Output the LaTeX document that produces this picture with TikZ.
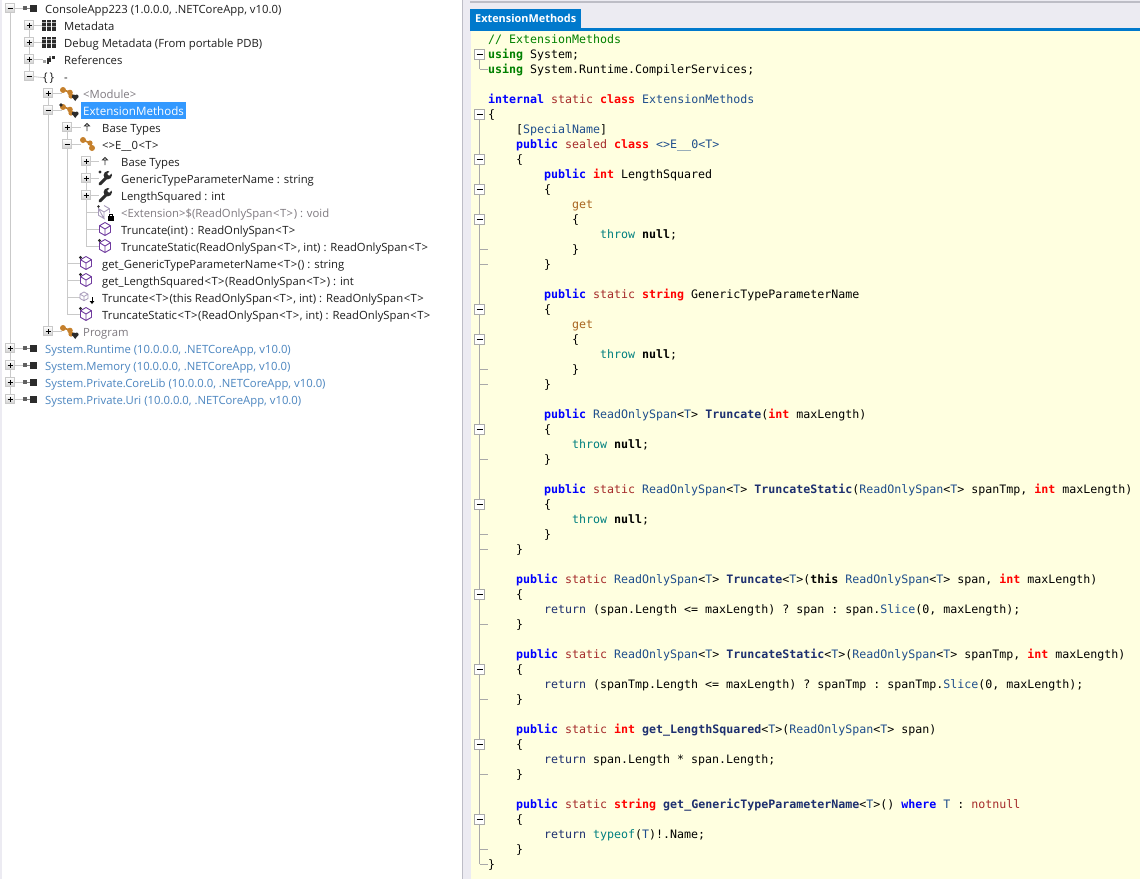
\documentclass[tikz,border=0pt]{standalone}
\usepackage{fontspec}
\setmainfont{Open Sans}
\setmonofont{DejaVu Sans Mono}
\usetikzlibrary{positioning}
\pgfdeclarelayer{bg}
\pgfsetlayers{bg,main}

\definecolor{panelgrey}{HTML}{ECEBF2}
\definecolor{splitgrey}{HTML}{BDBDC6}
\definecolor{tabblue}{HTML}{0079CC}
\definecolor{selblue}{HTML}{3399FF}
\definecolor{codeback}{HTML}{FFFFE0}
\definecolor{treegrey}{HTML}{C9C9C9}
\definecolor{foldgrey}{HTML}{A9A9A9}
\definecolor{treeink}{HTML}{1E1E1E}
\definecolor{dimink}{HTML}{7F7A80}
\definecolor{asmblue}{HTML}{4C86C0}
\definecolor{classorange}{HTML}{C5802C}
\definecolor{cubeviolet}{HTML}{6F3A9E}
\definecolor{dimviolet}{HTML}{A79ABA}
\definecolor{iconink}{HTML}{2C2C2C}
\definecolor{modbrown}{HTML}{A52A2A}
\definecolor{getbrown}{HTML}{A8641E}
\definecolor{typeblue}{HTML}{1F4E8C}
\definecolor{flowteal}{HTML}{008080}
\definecolor{retnavy}{HTML}{1D2F6F}
\definecolor{commentgreen}{HTML}{008000}

\newcommand{\treefont}{\fontsize{11.3}{14}\selectfont}
\newcommand{\codefont}{\ttfamily\fontsize{11.63}{15}\selectfont}
\newcommand{\kwpub}[1]{\textcolor{blue}{\bfseries #1}}
\newcommand{\kwmod}[1]{\textcolor{modbrown}{#1}}
\newcommand{\kwred}[1]{\textcolor{red}{\bfseries #1}}
\newcommand{\kwuse}[1]{\textcolor{commentgreen}{\bfseries #1}}
\newcommand{\kwget}[1]{\textcolor{getbrown}{#1}}
\newcommand{\kwflow}[1]{\textcolor{flowteal}{#1}}
\newcommand{\kwret}[1]{\textcolor{retnavy}{#1}}
\newcommand{\tyname}[1]{\textcolor{typeblue}{#1}}
\newcommand{\mbold}[1]{\textcolor{retnavy}{\bfseries #1}}
\newcommand{\rospan}{\tyname{ReadOnlySpan}<\tyname{T}>}
\newcommand{\gen}{\kern0.6pt<\kern0.4pt T\kern0.4pt>\kern0.6pt}

\tikzset{
	treerow/.style = {anchor = base west, inner sep = 0, yshift = -5pt, font = \treefont, text = treeink},
	treedim/.style = {treerow, text = dimink},
	treeasm/.style = {treerow, text = asmblue},
	treesel/.style = {treerow, fill = selblue, text = white, text height = 13pt, text depth = 4pt, inner xsep = 2pt, font = \fontsize{11.6}{14}\selectfont},
	treeline/.style = {draw = treegrey, line width = 0.8pt},
	expander/.style = {draw = treegrey, top color = white, bottom color = black!18, minimum size = 9pt, inner sep = 0},
	plusbox/.style = {expander, path picture = {
			\draw [black, line width = 1pt] ([xshift = 2pt]path picture bounding box.west) -- ([xshift = -2pt]path picture bounding box.east);
			\draw [black, line width = 1pt] ([yshift = -2pt]path picture bounding box.north) -- ([yshift = 2pt]path picture bounding box.south);
		}},
	minusbox/.style = {expander, path picture = {
			\draw [black, line width = 1pt] ([xshift = 2pt]path picture bounding box.west) -- ([xshift = -2pt]path picture bounding box.east);
		}},
	iconslot/.style = {minimum size = 12pt, inner sep = 0},
	codeline/.style = {anchor = base west, inner sep = 0, xshift = -1pt, yshift = -4pt, font = \codefont, text = black},
	foldbox/.style = {draw = foldgrey, fill = white, minimum size = 10pt, inner sep = 0, path picture = {
			\draw [black, line width = 0.9pt] ([xshift = 2pt]path picture bounding box.west) -- ([xshift = -2pt]path picture bounding box.east);
		}},
	foldline/.style = {draw = foldgrey, line width = 0.8pt},
	asmicon/.pic = {
		\fill [iconink!75] (-7,-2) rectangle (-3.5,2);
		\fill [iconink!60] (-3.5,-0.4) rectangle (0,0.4);
		\fill [iconink] (0,-3.5) rectangle (6.5,3.5);
	},
	metaicon/.pic = {
		\foreach \bx in {-7.2,-2.2,2.8} {
			\fill [iconink] (\bx,-5.5) rectangle ++(4,11);
			\foreach \by in {-2.4,1.2}
				\draw [white!60!iconink, line width = 0.5pt] (\bx,\by) -- ++(4,0);
		}
	},
	refsicon/.pic = {
		\fill [iconink!45] (-6,1) rectangle ++(3,3);
		\fill [iconink] (-2,-1) rectangle ++(3.5,3.5);
		\fill [iconink] (-2,2.5) rectangle ++(2,2);
		\fill [iconink] (2.5,-3.5) rectangle ++(3.5,3.5);
		\fill [iconink!60] (-0.5,-3) rectangle ++(2,2);
	},
	classicon/.pic = {
		\draw [classorange, line width = 1.6pt] (-5,-3) -- (2,-1) -- (3,3);
		\fill [classorange] (-5,-3) circle (3pt) (2,-0.5) circle (2.8pt) (3,3) circle (2.6pt);
		\fill [iconink] (5.8,3.5) circle (2pt) (8.6,3.5) circle (2pt) (4.3,4.2) -- (7.2,8) -- (10.1,4.2) -- cycle;
	},
	extclassicon/.pic = {
		\pic {classicon};
		\fill [iconink] (-7,-5) circle (1.8pt);
	},
	sealedicon/.pic = {
		\draw [classorange, line width = 1.6pt] (-4,-4) -- (3,-1) -- (5,4);
		\fill [classorange] (-4,-4) circle (3pt) (3,-1) circle (2.6pt) (5,4) circle (3pt);
	},
	baseicon/.pic = {
		\draw [iconink, line width = 0.8pt] (0,4) -- (0,-1) (-2.5,-1) -- (0,-3.5) -- (2.5,-1) -- cycle;
	},
	wrenchicon/.pic = {
		\draw [iconink, line width = 3pt, line cap = round] (-5,6) -- (1.5,-0.5);
		\fill [iconink] (2.8,-2.8) circle (4.2pt);
		\draw [white, line width = 2.6pt] (3.2,-3.2) -- (8,-8);
	},
	starwrench/.pic = {
		\pic {wrenchicon};
		\fill [iconink] (-5,-6) circle (1.6pt);
	},
	cubeicon/.pic = {
		\draw [cubeviolet, line width = 0.9pt, line join = round] (0,-6.5) -- (5.5,-3.3) -- (5.5,3.3) -- (0,6.5) -- (-5.5,3.3) -- (-5.5,-3.3) -- cycle
			(-5.5,-3.3) -- (0,0) -- (5.5,-3.3) (0,0) -- (0,6.5);
	},
	starcube/.pic = {
		\pic {cubeicon};
		\fill [iconink] (-5.5,-5.5) circle (1.7pt);
	},
	lockcube/.pic = {
		\draw [dimviolet, line width = 0.9pt] (-1,-6.5) -- (4.5,-3.3) -- (4.5,1) (-1,6.5) -- (-6.5,3.3) -- (-6.5,-3.3) -- cycle
			(-6.5,-3.3) -- (-1,0) -- (4.5,-3.3) (-1,0) -- (-1,6.5);
		\fill [iconink] (-6.5,-5.5) circle (1.4pt);
		\fill [black] (3,4) rectangle (8.5,8.5);
		\draw [black, line width = 0.8pt] (4.2,4) -- (4.2,2.5) -- (7.2,2.5) -- (7.2,4);
	},
	extcube/.pic = {
		\draw [dimviolet, line width = 0.8pt] (-2,-5) -- (2,-2.8) -- (2,1.5) -- (-2,3.7) -- (-6,1.5) -- (-6,-2.8) -- cycle
			(-6,-2.8) -- (-2,-0.6) -- (2,-2.8) (-2,-0.6) -- (-2,3.7);
		\draw [black, line width = 1pt] (6,0) -- (6,5);
		\fill [black] (3.6,4) -- (8.4,4) -- (6,7) -- cycle;
	},
}

\begin{document}
\begin{tikzpicture}[x = 1pt, y = -1pt]
	\useasboundingbox (0,0) rectangle (1140,879);
	\begin{pgfonlayer}{bg}
		% window panes
		\fill [white] (0,0) rectangle (1140,879);
		\fill [panelgrey] (0,0) rectangle (1.5,879);
		\fill [panelgrey] (462,0) rectangle (1140,28);
		\fill [panelgrey] (462,0) rectangle (470.5,879);
		\fill [splitgrey] (462,0) rectangle (463,879);
		\fill [splitgrey] (470,1) rectangle (1140,2.5);
		\fill [tabblue] (470,27.5) rectangle (1140,31);
		\fill [codeback] (471,31) rectangle (1140,879);
	\end{pgfonlayer}

	\node [fill = tabblue, text = white, anchor = north west, inner sep = 0, minimum width = 111pt, minimum height = 19pt, font = \fontsize{10.9}{14}\selectfont\bfseries] (tab) at (470,9) {ExtensionMethods};

	% tree expanders
	\foreach \ry/\rx in {8/10,76/29,110/48,144/67}
		\node [minusbox] (b\ry) at (\rx,\ry) {};
	\foreach \ry/\rx in {25/29,42/29,59/29,93/48,127/67,161/86,178/86,195/86,331/48,348/10,365/10,382/10,399/10}
		\node [plusbox] (b\ry) at (\rx,\ry) {};

	% tree icons
	\foreach \ry/\rx/\ic in {8/30/asmicon,25/49/metaicon,42/49/metaicon,59/49/refsicon,93/68/classicon,110/68/extclassicon,127/87/baseicon,144/87/sealedicon,161/105/baseicon,178/105/starwrench,195/105/wrenchicon,212/105/lockcube,229/105/cubeicon,246/105/starcube,263/86/starcube,280/86/starcube,297/86/extcube,314/86/starcube,331/68/classicon,348/30/asmicon,365/30/asmicon,382/30/asmicon,399/30/asmicon} {
		\node [iconslot] (i\ry) at (\rx,\ry) {};
		\pic at (i\ry) {\ic};
	}
	\node [treerow, font = \fontsize{12}{14}\selectfont] (i76) at (43,76) {\{\,\}};

	% tree lines
	\begin{pgfonlayer}{bg}
		\foreach \ry/\rx in {212/86,229/86,246/86,263/67,280/67,297/67,314/67}
			\coordinate (n\ry) at (\rx,\ry);
		\draw [treeline] (b8) -- (b399);
		\draw [treeline] (b25) -- (b76);
		\draw [treeline] (b93) -- (b331);
		\draw [treeline] (b127) -- (n314);
		\draw [treeline] (b161) -- (n246);
		\foreach \ry in {8,25,42,59,93,110,127,144,161,178,195,331,348,365,382,399}
			\draw [treeline] (b\ry) -- (i\ry.west);
		\draw [treeline] (b76) -- (i76.west);
		\foreach \ry in {212,229,246,263,280,297,314}
			\draw [treeline] (n\ry) -- (i\ry.west);
	\end{pgfonlayer}

	% tree texts
	\node [treerow] (t8) at (45,8) {ConsoleApp223 (1.0.0.0, .NETCoreApp, v10.0)};
	\node [treerow] (t25) at (64,25) {Metadata};
	\node [treerow] (t42) at (64,42) {Debug Metadata (From portable PDB)};
	\node [treerow] (t59) at (64,59) {References};
	\node [treerow] (t76) at (64,76) {-};
	\node [treedim] (t93) at (83,93) {<Module>};
	\node [treesel] (t110) at (81,110) {ExtensionMethods};
	\node [treerow] (t127) at (102,127) {Base Types};
	\node [treerow] (t144) at (102,144) {<>E\_\_0\gen};
	\node [treerow] (t161) at (121,161) {Base Types};
	\node [treerow] (t178) at (121,178) {GenericTypeParameterName : string};
	\node [treerow] (t195) at (121,195) {LengthSquared : int};
	\node [treedim] (t212) at (121,212) {<Extension>\$(ReadOnlySpan\gen) : void};
	\node [treerow] (t229) at (121,229) {Truncate(int) : ReadOnlySpan\gen};
	\node [treerow] (t246) at (121,246) {TruncateStatic(ReadOnlySpan\gen, int) : ReadOnlySpan\gen};
	\node [treerow] (t263) at (102,263) {get\_GenericTypeParameterName\gen() : string};
	\node [treerow] (t280) at (102,280) {get\_LengthSquared\gen(ReadOnlySpan\gen) : int};
	\node [treerow] (t297) at (102,297) {Truncate\gen(this ReadOnlySpan\gen, int) : ReadOnlySpan\gen};
	\node [treerow] (t314) at (102,314) {TruncateStatic\gen(ReadOnlySpan\gen, int) : ReadOnlySpan\gen};
	\node [treedim] (t331) at (83,331) {Program};
	\node [treeasm] (t348) at (45,348) {System.Runtime (10.0.0.0, .NETCoreApp, v10.0)};
	\node [treeasm] (t365) at (45,365) {System.Memory (10.0.0.0, .NETCoreApp, v10.0)};
	\node [treeasm] (t382) at (45,382) {System.Private.CoreLib (10.0.0.0, .NETCoreApp, v10.0)};
	\node [treeasm] (t399) at (45,399) {System.Private.Uri (10.0.0.0, .NETCoreApp, v10.0)};

	% code folding margin
	\foreach \ry in {54,114,159,189,219,309,339,429,504,594,669,744,819}
		\node [foldbox] (f\ry) at (479.5,\ry) {};
	\begin{pgfonlayer}{bg}
		\foreach \ry in {69,249,264,369,384,459,534,549,624,699,774,849,864} {
			\coordinate (s\ry) at (479.5,\ry);
			\coordinate (e\ry) at (488,\ry);
			\draw [foldline] (s\ry) -- (e\ry);
		}
		\draw [foldline] (f54) -- (s69);
		\draw [foldline] (f114) -- (s864);
	\end{pgfonlayer}

	% code lines
	\node [codeline] (l39) at (489,39) {\textcolor{commentgreen}{// ExtensionMethods}};
	\node [codeline] (l54) at (489,54) {\kwuse{using} System;};
	\node [codeline] (l69) at (489,69) {\kwuse{using} System.Runtime.CompilerServices;};
	\node [codeline] (l99) at (489,99) {\kwpub{internal} \kwmod{static} \kwred{class} \tyname{ExtensionMethods}};
	\node [codeline] (l114) at (489,114) {\{};
	\node [codeline] (l129) at (517,129) {[\tyname{SpecialName}]};
	\node [codeline] (l144) at (517,144) {\kwpub{public} \kwmod{sealed} \kwred{class} \tyname{<>E\_\_0<T>}};
	\node [codeline] (l159) at (517,159) {\{};
	\node [codeline] (l174) at (545,174) {\kwpub{public} \kwred{int} LengthSquared};
	\node [codeline] (l189) at (545,189) {\{};
	\node [codeline] (l204) at (573,204) {\kwget{get}};
	\node [codeline] (l219) at (573,219) {\{};
	\node [codeline] (l234) at (601,234) {\kwflow{throw} \textbf{null};};
	\node [codeline] (l249) at (573,249) {\}};
	\node [codeline] (l264) at (545,264) {\}};
	\node [codeline] (l294) at (545,294) {\kwpub{public} \kwmod{static} \kwred{string} GenericTypeParameterName};
	\node [codeline] (l309) at (545,309) {\{};
	\node [codeline] (l324) at (573,324) {\kwget{get}};
	\node [codeline] (l339) at (573,339) {\{};
	\node [codeline] (l354) at (601,354) {\kwflow{throw} \textbf{null};};
	\node [codeline] (l369) at (573,369) {\}};
	\node [codeline] (l384) at (545,384) {\}};
	\node [codeline] (l414) at (545,414) {\kwpub{public} \rospan{} \mbold{Truncate}(\kwred{int} maxLength)};
	\node [codeline] (l429) at (545,429) {\{};
	\node [codeline] (l444) at (573,444) {\kwflow{throw} \textbf{null};};
	\node [codeline] (l459) at (545,459) {\}};
	\node [codeline] (l489) at (545,489) {\kwpub{public} \kwmod{static} \rospan{} \mbold{TruncateStatic}(\rospan{} spanTmp, \kwred{int} maxLength)};
	\node [codeline] (l504) at (545,504) {\{};
	\node [codeline] (l519) at (573,519) {\kwflow{throw} \textbf{null};};
	\node [codeline] (l534) at (545,534) {\}};
	\node [codeline] (l549) at (517,549) {\}};
	\node [codeline] (l579) at (517,579) {\kwpub{public} \kwmod{static} \rospan{} \mbold{Truncate}<\tyname{T}>(\textbf{this} \rospan{} span, \kwred{int} maxLength)};
	\node [codeline] (l594) at (517,594) {\{};
	\node [codeline] (l609) at (545,609) {\kwret{return} (span.Length <= maxLength) ? span : span.\tyname{Slice}(0, maxLength);};
	\node [codeline] (l624) at (517,624) {\}};
	\node [codeline] (l654) at (517,654) {\kwpub{public} \kwmod{static} \rospan{} \mbold{TruncateStatic}<\tyname{T}>(\rospan{} spanTmp, \kwred{int} maxLength)};
	\node [codeline] (l669) at (517,669) {\{};
	\node [codeline] (l684) at (545,684) {\kwret{return} (spanTmp.Length <= maxLength) ? spanTmp : spanTmp.\tyname{Slice}(0, maxLength);};
	\node [codeline] (l699) at (517,699) {\}};
	\node [codeline] (l729) at (517,729) {\kwpub{public} \kwmod{static} \kwred{int} \mbold{get\_LengthSquared}<\tyname{T}>(\rospan{} span)};
	\node [codeline] (l744) at (517,744) {\{};
	\node [codeline] (l759) at (545,759) {\kwret{return} span.Length * span.Length;};
	\node [codeline] (l774) at (517,774) {\}};
	\node [codeline] (l804) at (517,804) {\kwpub{public} \kwmod{static} \kwred{string} \mbold{get\_GenericTypeParameterName}<\tyname{T}>() \kwpub{where} \tyname{T} : \kwmod{notnull}};
	\node [codeline] (l819) at (517,819) {\{};
	\node [codeline] (l834) at (545,834) {\kwret{return} \kwflow{typeof}(\tyname{T})!.Name;};
	\node [codeline] (l849) at (517,849) {\}};
	\node [codeline] (l864) at (489,864) {\}};
\end{tikzpicture}
\end{document}
